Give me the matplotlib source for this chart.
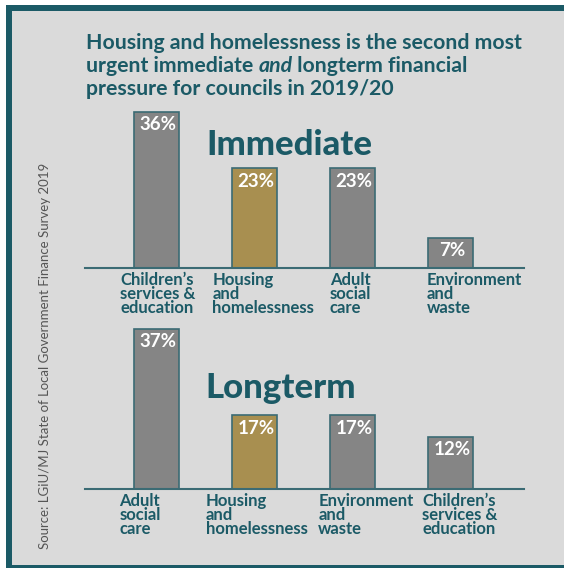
import matplotlib.pyplot as plt
from matplotlib.patches import Rectangle

TEAL = "#1b5a66"
EDGE = "#3b6b74"
GREY_BAR = "#858585"
GOLD = "#a88f50"
PANEL = "#dadada"

immediate_labels = ["Children’s\nservices &\neducation", "Housing\nand\nhomelessness",
                    "Adult\nsocial\ncare", "Environment\nand\nwaste"]
immediate_values = [36, 23, 23, 7]

longterm_labels = ["Adult\nsocial\ncare", "Housing\nand\nhomelessness",
                   "Environment\nand\nwaste", "Children’s\nservices &\neducation"]
longterm_values = [37, 17, 17, 12]

highlight = "Housing\nand\nhomelessness"
source = "Source: LGiU/MJ State of Local Government Finance Survey 2019"

W, H = 564, 568
FONT = "Lato"

fig = plt.figure(figsize=(W / 100, H / 100), dpi=100)
fig.patch.set_facecolor("white")

# teal frame with the grey panel inside (open on the right)
fig.add_artist(Rectangle((6 / W, 0), 1, 1 - 5 / H, transform=fig.transFigure,
                         facecolor=TEAL, edgecolor="none", zorder=0))
fig.add_artist(Rectangle((12 / W, 3 / H), 1, 1 - 14 / H, transform=fig.transFigure,
                         facecolor=PANEL, edgecolor="none", zorder=0))


def px(x, y):
    return x / W, 1 - y / H


def draw_panel(baseline, labels, values, label_shift):
    ax = fig.add_axes([85 / W, (H - baseline) / H, 439 / W, 180 / H])
    ax.set_facecolor("none")
    colors = [GOLD if lab == highlight else GREY_BAR for lab in labels]
    pos = range(len(values))
    bars = ax.bar(pos, values, width=0.45, color=colors, edgecolor=EDGE, linewidth=1.2)
    ax.set_xlim(-0.73, 3.75)
    ax.set_ylim(0, 180 / 4.33)
    for s in ["top", "left", "right"]:
        ax.spines[s].set_visible(False)
    ax.spines["bottom"].set_color(EDGE)
    ax.spines["bottom"].set_linewidth(1.5)
    ax.set_xticks([])
    ax.set_yticks([])
    for b, v in zip(bars, values):
        ax.annotate(f"{v}%", (b.get_x() + b.get_width() / 2, v), xytext=(1, -3),
                    textcoords="offset points", ha="center", va="top",
                    color="white", fontsize=13.5, fontweight="bold", family=FONT)
    for i, lab in enumerate(labels):
        ax.annotate(lab, (i + label_shift[i], 0), xytext=(0, -3),
                    textcoords="offset points", ha="left", va="top",
                    color=TEAL, fontsize=12, fontweight="bold", family=FONT,
                    linespacing=0.85, annotation_clip=False)
    return ax


draw_panel(268, immediate_labels, immediate_values, [-0.37, -0.43, -0.23, -0.24])
draw_panel(489, longterm_labels, longterm_values, [-0.38, -0.5, -0.35, -0.29])

fig.text(*px(206, 155), "Immediate", color=TEAL, fontsize=25, fontweight="black",
         family=FONT, ha="left", va="baseline")
fig.text(*px(205, 398), "Longterm", color=TEAL, fontsize=25, fontweight="black",
         family=FONT, ha="left", va="baseline")

# title, with "and" in italics on the second line
title_kw = dict(color=TEAL, fontsize=15.3, fontweight="bold", family=FONT,
                ha="left", va="baseline")
fig.text(*px(86, 49), "Housing and homelessness is the second most", **title_kw)
fig.text(*px(86, 95), "pressure for councils in 2019/20", **title_kw)
renderer = fig.canvas.get_renderer()
x = 86
for part, style in [("urgent immediate ", "normal"), ("and", "italic"),
                    (" longterm financial", "normal")]:
    t = fig.text(*px(x, 72), part, style=style, **title_kw)
    x += t.get_window_extent(renderer).width

fig.text(*px(45, 549), source, rotation=90, color="#555555", fontsize=9.5,
         family=FONT, ha="center", va="bottom")

fig.savefig("out.png", dpi=100, facecolor=fig.get_facecolor())
